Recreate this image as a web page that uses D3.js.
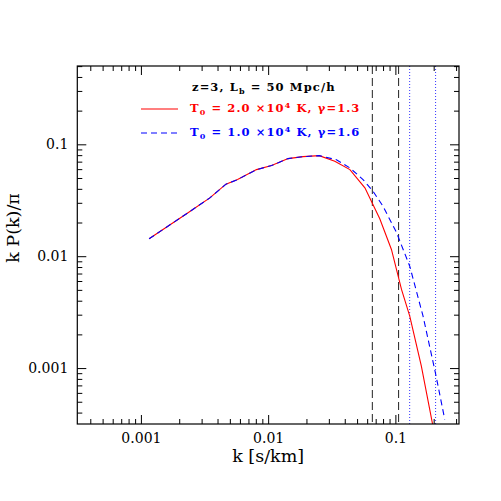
<!DOCTYPE html>
<html>
<head>
<meta charset="utf-8">
<script src="https://cdn.jsdelivr.net/npm/d3@7"></script>
<style>
  body { margin: 0; background: #fff; }
  text { font-family: "DejaVu Serif", serif; }
</style>
</head>
<body>
<div id="chart"></div>
<script>
// k values [s/km] and k P(k)/pi for the two thermal models
var kRed = [0.00116, 0.0023, 0.00348, 0.00466, 0.00575, 0.0081, 0.01064, 0.01436, 0.0188, 0.0252,
            0.0334, 0.0439, 0.0576, 0.0754, 0.0931, 0.1117, 0.1297, 0.160, 0.1955, 0.21];
var pRed = [0.0143, 0.0241, 0.0332, 0.0440, 0.0484, 0.0594, 0.0646, 0.0745, 0.0776, 0.0792,
            0.0705, 0.0594, 0.0408, 0.0216, 0.01148, 0.00505, 0.00291, 0.00104, 0.00032, 0.0002];

var kBlue = [0.00116, 0.0023, 0.00348, 0.00466, 0.00575, 0.0081, 0.01064, 0.01436, 0.0188, 0.0252,
             0.0344, 0.0439, 0.0557, 0.0668, 0.080, 0.102, 0.1297, 0.165, 0.2075, 0.2443];
var pBlue = [0.0143, 0.0241, 0.0332, 0.0440, 0.0484, 0.0594, 0.0646, 0.0745, 0.0776, 0.0792,
             0.0729, 0.0615, 0.0484, 0.0380, 0.0279, 0.0163, 0.00814, 0.00291, 0.00088, 0.000348];

// vertical markers
var kDashed = [0.0659, 0.106];
var kDotted = [0.1295, 0.207];

// axis ticks
var xMajor = [0.001, 0.01, 0.1];
var xLabels = ["0.001", "0.01", "0.1"];
var yMajor = [0.001, 0.01, 0.1];
var yLabels = ["0.001", "0.01", "0.1"];

var W = 501, H = 501;
var margin = {top: 66, right: 42, bottom: 77, left: 77.3};

var svg = d3.select("#chart").append("svg")
    .attr("width", W)
    .attr("height", H);

var x = d3.scaleLog().domain([Math.pow(10, -3.5), Math.pow(10, -0.5)]).range([margin.left, W - margin.right]);
var y = d3.scaleLog().domain([Math.pow(10, -3.5), Math.pow(10, -0.3)]).range([H - margin.bottom, margin.top]);

var x0 = x.range()[0], x1 = x.range()[1], y0 = y.range()[0], y1 = y.range()[1];

//minor ticks: 2..9 in every decade that falls in the domain
function minors(sc) {
  var d = sc.domain(), out = [];
  for (var e = -5; e <= 1; e++) {
    for (var m = 2; m <= 9; m++) {
      var v = m * Math.pow(10, e);
      if (v >= d[0] && v <= d[1]) out.push(v);
    }
  }
  return out;
}

svg.append("defs").append("clipPath").attr("id", "clip")
  .append("rect").attr("x", x0).attr("y", y1).attr("width", x1 - x0).attr("height", y0 - y1);

function tickAxis(axisFn, sc, vals, size, transform) {
  var g = svg.append("g").attr("transform", transform)
    .call(axisFn(sc).tickValues(vals).tickSizeInner(size).tickSizeOuter(0).tickFormat(""));
  g.select(".domain").remove();
  g.selectAll("line").attr("stroke", "#000").attr("stroke-width", 1);
  return g;
}

// ticks on all four sides, pointing in
tickAxis(d3.axisBottom, x, minors(x), -5, "translate(0," + y0 + ")");
tickAxis(d3.axisBottom, x, xMajor, -9, "translate(0," + y0 + ")");
tickAxis(d3.axisTop, x, minors(x), -5, "translate(0," + y1 + ")");
tickAxis(d3.axisTop, x, xMajor, -9, "translate(0," + y1 + ")");
tickAxis(d3.axisLeft, y, minors(y), -5, "translate(" + x0 + ",0)");
tickAxis(d3.axisLeft, y, yMajor, -9, "translate(" + x0 + ",0)");
tickAxis(d3.axisRight, y, minors(y), -5, "translate(" + x1 + ",0)");
tickAxis(d3.axisRight, y, yMajor, -9, "translate(" + x1 + ",0)");

// tick labels
var xl = svg.append("g").attr("transform", "translate(0," + y0 + ")")
  .call(d3.axisBottom(x).tickValues(xMajor).tickSize(0).tickPadding(9)
    .tickFormat(function(d, i) { return xLabels[i]; }));
xl.select(".domain").remove();
xl.selectAll("text").attr("font-family", "DejaVu Serif").attr("font-size", 14).attr("fill", "#000");

var yl = svg.append("g").attr("transform", "translate(" + x0 + ",0)")
  .call(d3.axisLeft(y).tickValues(yMajor).tickSize(0).tickPadding(9)
    .tickFormat(function(d, i) { return yLabels[i]; }));
yl.select(".domain").remove();
yl.selectAll("text").attr("font-family", "DejaVu Serif").attr("font-size", 14).attr("fill", "#000");

// vertical lines
var plot = svg.append("g").attr("clip-path", "url(#clip)");
plot.selectAll(".vdash").data(kDashed).enter().append("line")
  .attr("x1", function(d) { return x(d); }).attr("x2", function(d) { return x(d); })
  .attr("y1", y1).attr("y2", y0)
  .attr("stroke", "#222").attr("stroke-width", 1).attr("stroke-dasharray", "8,4");
plot.selectAll(".vdot").data(kDotted).enter().append("line")
  .attr("x1", function(d) { return x(d); }).attr("x2", function(d) { return x(d); })
  .attr("y1", y1).attr("y2", y0)
  .attr("stroke", "#3333ff").attr("stroke-width", 1).attr("stroke-dasharray", "1,2");

var line = d3.line().x(function(d) { return x(d[0]); }).y(function(d) { return y(d[1]); });

plot.append("path").datum(d3.zip(kRed, pRed))
  .attr("d", line).attr("fill", "none").attr("stroke", "#ff0000").attr("stroke-width", 1.1);
plot.append("path").datum(d3.zip(kBlue, pBlue))
  .attr("d", line).attr("fill", "none").attr("stroke", "#0000ff").attr("stroke-width", 1.1)
  .attr("stroke-dasharray", "6,4");

// frame
svg.append("rect").attr("x", x0).attr("y", y1).attr("width", x1 - x0).attr("height", y0 - y1)
  .attr("fill", "none").attr("stroke", "#000").attr("stroke-width", 1.2);

// axis titles
svg.append("text").attr("x", (x0 + x1) / 2).attr("y", 462).attr("text-anchor", "middle")
  .attr("font-size", 17.5).text("k [s/km]");
svg.append("text").attr("transform", "translate(19,228) rotate(-90)").attr("text-anchor", "middle")
  .attr("font-size", 17.5).text("k P(k)/π");

// legend
var leg = svg.append("g").attr("font-size", 11.5).attr("font-weight", "bold").attr("letter-spacing", 1.1);
var t0 = leg.append("text").attr("x", 192).attr("y", 91).attr("fill", "#000");
t0.append("tspan").text("z=3, L");
t0.append("tspan").attr("font-size", 8).attr("dy", 3).text("b");
t0.append("tspan").attr("dy", -3).text(" = 50 Mpc/h");

function legendRow(yy, color, dash, T, g) {
  leg.append("line").attr("x1", 141).attr("x2", 178).attr("y1", yy - 3).attr("y2", yy - 3)
    .attr("stroke", color).attr("stroke-width", 1.1).attr("stroke-dasharray", dash);
  var t = leg.append("text").attr("x", 190).attr("y", yy).attr("fill", color);
  t.append("tspan").text("T");
  t.append("tspan").attr("font-size", 8).attr("dy", 3).text("0");
  t.append("tspan").attr("dy", -3).text(" = " + T + " ×10");
  t.append("tspan").attr("font-size", 8).attr("dy", -4).text("4");
  t.append("tspan").attr("dy", 4).text(" K, γ=" + g);
}
legendRow(112, "#ff0000", null, "2.0", "1.3");
legendRow(136, "#0000ff", "6,4", "1.0", "1.6");
</script>
</body>
</html>
